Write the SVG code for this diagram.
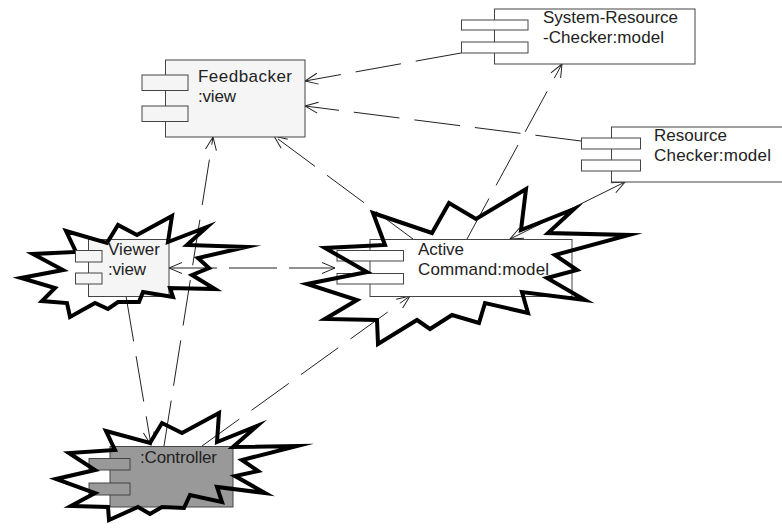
<svg xmlns="http://www.w3.org/2000/svg" width="782" height="528" viewBox="0 0 782 528">
<style>
text{font-family:"Liberation Sans",Arial,sans-serif;font-size:17px;fill:#222;lengthAdjust:spacing}
.box{stroke:#444;stroke-width:1}
.burst{fill:none;stroke:#000;stroke-width:4;stroke-linejoin:miter;stroke-miterlimit:12}
.white{fill:#fff}.light{fill:#f5f5f5}.dark{fill:#999}
.c{fill:none;stroke:#222;stroke-width:1;marker-end:url(#arrow)}
.d{stroke-dasharray:46 15}
</style>
<defs>
<marker id="arrow" markerUnits="userSpaceOnUse" markerWidth="30" markerHeight="30" viewBox="-15 -15 30 30" refX="0" refY="0" orient="auto-start-reverse">
<path d="M-13,-5.500 L0,0 L-13,5.500" fill="none" stroke="#222" stroke-width="1"/>
</marker>
</defs>
<rect width="782" height="528" fill="#fff"/>
<g id="connectors">
<path class="c d" d="M461,53 L305,81"/>
<path class="c d" d="M581,141 L305,106"/>
<path class="c d" d="M413,239 L274,136"/>
<path class="c d" d="M467,239 L562,64"/>
<path class="c" style="marker-start:url(#arrow)" d="M510,239 L625,182"/>
<path class="c" style="marker-start:url(#arrow);stroke-dasharray:48 12" d="M169,268 L335,268"/>
<path class="c d" d="M164,446 L213,137"/>
<path class="c d" d="M126,296 L151,445"/>
<path class="c d" d="M202,446 L410,296"/>
</g>
<g id="feedbacker">
<rect class="box light" x="165.500" y="60" width="139.500" height="77"/>
<rect class="box light" x="142" y="75" width="46" height="15.500"/>
<rect class="box light" x="142" y="106" width="46" height="15.500"/>
<text x="198" y="82" textLength="94">Feedbacker</text>
<text x="198" y="102" textLength="38">:view</text>
</g>
<g id="system-resource-checker">
<rect class="box white" x="494.500" y="9" width="200.500" height="55"/>
<rect class="box white" x="461.500" y="20" width="66.500" height="10"/>
<rect class="box white" x="461.500" y="42" width="66.500" height="11"/>
<text x="543" y="23" textLength="135">System-Resource</text>
<text x="543" y="43" textLength="121">-Checker:model</text>
</g>
<g id="resource-checker">
<rect class="box white" x="611.500" y="127" width="180" height="55"/>
<rect class="box white" x="581.500" y="138" width="59" height="11"/>
<rect class="box white" x="581.500" y="160" width="59" height="11"/>
<text x="654" y="141" textLength="73">Resource</text>
<text x="654" y="161" textLength="117">Checker:model</text>
</g>
<g id="active-command">
<rect class="box white" x="370" y="239.500" width="202" height="57"/>
<rect class="box white" x="337" y="250.500" width="66.500" height="10.500"/>
<rect class="box white" x="337" y="273.500" width="66.500" height="10.500"/>
<polygon class="burst" points="373,213 432,233 449,203 476,219 526,189 521,230 574,209 548,233 629,235 555,255 577,270 547,278 585,300 522,292 528,313 485,303 479,323 452,315 430,329 417,320 378,344 377,320 325,319 357,300 307,284 367,272 325,248 385,245"/>
<text x="418" y="255" textLength="46">Active</text>
<text x="418" y="275" textLength="131">Command:model</text>
</g>
<g id="viewer">
<rect class="box light" x="88.500" y="239.500" width="80.500" height="57"/>
<polygon class="burst" points="66,231 107,243 118,225 137,235 172,216 168,242 207,227 187,245 246,247 198,258 209,268 192,275 215,289 170,288 173,297 143,292 139,302 118,302 108,309 95,303 70,317 67,303 42,301 55,288 21,278 63,270 33,254 76,252"/>
<rect class="box light" x="75.500" y="250.500" width="26.500" height="11.500"/>
<rect class="box light" x="75.500" y="273" width="26.500" height="11"/>
<text x="108" y="255" textLength="52">Viewer</text>
<text x="108" y="275" textLength="38">:view</text>
</g>
<g id="controller">
<rect class="box dark" x="110" y="446.500" width="123" height="60.500"/>
<rect class="box dark" x="89" y="458.500" width="41" height="11.500"/>
<rect class="box dark" x="89" y="483" width="41" height="12"/>
<polygon class="burst" points="106,431 150,443 162,423 182,433 219,413 217,442 257,426 233,447 297,446 242,460 258,471 235,476 265,493 217,487 222,502 190,495 184,508 162,507 150,514 138,507 109,520 108,507 71,506 95,493 56,479 95,470 69,453 115,450"/>
<text x="140" y="463" textLength="77">:Controller</text>
</g>
</svg>
